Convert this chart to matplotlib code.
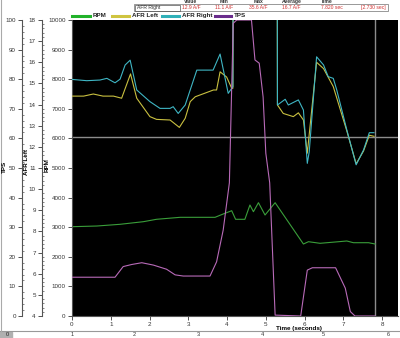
import matplotlib
matplotlib.use("Agg")
import matplotlib.pyplot as plt
from matplotlib.lines import Line2D
from matplotlib.patches import Rectangle
from matplotlib.ticker import MultipleLocator

plt.rcParams["font.family"] = ["Liberation Sans", "DejaVu Sans"]

# series
rpm_t = [0, 0.64, 1.24, 1.84, 2.18, 2.79, 3.69, 3.9, 4.12, 4.22, 4.46, 4.59, 4.68, 4.81, 4.98, 5.24,
         5.97, 6.1, 6.4, 7.09, 7.26, 7.65, 7.82]
rpm = [3017, 3040, 3098, 3186, 3267, 3334, 3334, 3446, 3557, 3267, 3267, 3750, 3524, 3828, 3412, 3828,
       2432, 2510, 2456, 2534, 2476, 2476, 2432]

afr_left_t = [0, 0.3, 0.55, 0.8, 1.07, 1.28, 1.51, 1.67, 2.01, 2.18, 2.53, 2.77, 2.92, 3.05, 3.18, 3.65,
              3.73, 3.82, 3.99, 4.12, 4.15, 4.17, 5.29, 5.30, 5.45, 5.71, 5.84, 5.97, 6.07, 6.31, 6.49,
              6.74, 7.09, 7.33, 7.52, 7.67, 7.79]
afr_left = [14.4, 14.4, 14.5, 14.4, 14.4, 14.3, 15.45, 14.3, 13.43, 13.3, 13.27, 12.92, 13.35, 14.14, 14.37,
            14.69, 14.69, 15.55, 15.3, 14.77, 14.77, 28, 26, 13.98, 13.58, 13.43, 13.61, 13.27, 11.7, 16.0,
            15.7, 14.85, 12.75, 11.2, 11.8, 12.55, 12.5]

afr_right_t = [0, 0.38, 0.72, 0.9, 1.11, 1.24, 1.37, 1.5, 1.67, 2.01, 2.27, 2.53, 2.61, 2.74, 2.92, 3.22,
               3.64, 3.82, 4.03, 4.12, 4.15, 4.17, 4.6, 5.0, 5.29, 5.30, 5.5, 5.58, 5.84, 5.97, 6.07, 6.12,
               6.31, 6.49, 6.61, 6.74, 6.83, 7.09, 7.33, 7.52, 7.67, 7.79]
afr_right = [15.19, 15.13, 15.16, 15.24, 15.03, 15.2, 15.87, 16.1, 14.69, 14.14, 13.82, 13.82, 13.9, 13.58,
             13.98, 15.63, 15.63, 16.39, 14.53, 14.77, 14.85, 30, 35.6, 32, 28, 13.98, 14.25, 13.98, 14.22,
             13.74, 11.22, 11.77, 16.26, 15.87, 15.32, 15.24, 14.69, 12.8, 11.15, 11.85, 12.67, 12.67]

tps_t = [0, 1.11, 1.32, 1.54, 1.8, 2.1, 2.44, 2.66, 2.87, 3.56, 3.73, 3.9, 4.06, 4.16, 4.25, 4.63, 4.72,
         4.83, 4.93, 5.0, 5.1, 5.24, 5.9, 6.07, 6.2, 6.8, 7.05, 7.18, 7.3, 7.82]
tps = [13.1, 13.1, 16.7, 17.4, 18, 17.2, 15.8, 13.9, 13.5, 13.5, 18.3, 29, 45, 98.9, 100, 100, 86.5,
       85.4, 74, 55, 45, 0.3, 0, 15.5, 16.3, 16.3, 9.4, 1.5, 0, 0]

cursor_t = 7.82
cursor_rpm = 6050

stat_headers = ["Value", "Min", "Max", "Average", "Time"]
stat_values = ["12.9 A/F", "11.1 A/F", "35.6 A/F", "16.7 A/F", "7.820 sec", "[2.730 sec]"]

C_RPM = "#3a9e3a"
C_AFRL = "#c9c040"
C_AFRR = "#3fb6c4"
C_TPS = "#b86ab8"

W, H = 400, 338


def fx(px):
    return px / W


def fy(py):
    return 1 - py / H


fig = plt.figure(figsize=(4, 3.38), dpi=100)
fig.patch.set_facecolor("white")

ax = fig.add_axes([fx(72), fy(316), fx(398) - fx(72), fy(20) - fy(316)])
ax.set_facecolor("black")
ax.set_xlim(0, 8.41)
ax.set_ylim(0, 10000)
ax.set_yticks(range(0, 10001, 1000))
ax.set_xticks(range(0, 9))
ax.tick_params(labelsize=4.5, length=3, width=0.6, pad=1.5, colors="#333333")
for s in ["top", "right"]:
    ax.spines[s].set_visible(False)
ax.spines["left"].set_color("#555555")
ax.spines["bottom"].set_color("#555555")

ax_afr = ax.twinx()
ax_afr.set_ylim(4, 18)
ax_tps = ax.twinx()
ax_tps.set_ylim(0, 100)
for a, pos, major, minor in [(ax_afr, -0.092, 1, 0.2), (ax_tps, -0.153, 10, 2)]:
    a.yaxis.set_ticks_position("left")
    for s in ["top", "right", "bottom"]:
        a.spines[s].set_visible(False)
    a.spines["left"].set_position(("axes", pos))
    a.spines["left"].set_color("#555555")
    a.yaxis.set_major_locator(MultipleLocator(major))
    a.yaxis.set_minor_locator(MultipleLocator(minor))
    a.tick_params(axis="y", which="major", labelsize=4.5, length=3, width=0.6, pad=1.5, colors="#333333")
    a.tick_params(axis="y", which="minor", length=1.6, width=0.5, direction="in", colors="#555555")

ax.axhline(cursor_rpm, color="#8c8c8c", lw=1.0, zorder=1)
ax.axvline(cursor_t, color="#8c8c8c", lw=1.0, zorder=1)

ax.plot(rpm_t, rpm, color=C_RPM, lw=0.8)
ax_tps.plot(tps_t, tps, color=C_TPS, lw=0.8)
ax_afr.plot(afr_left_t, afr_left, color=C_AFRL, lw=0.8)
ax_afr.plot(afr_right_t, afr_right, color=C_AFRR, lw=0.8)

ax.set_xlabel("Time (seconds)", fontsize=4.5, fontweight="bold", labelpad=0)
ax.xaxis.set_label_coords((299 - 72) / 326, -0.035)

fig.text(fx(4), fy(167), "TPS", rotation=90, fontsize=4.5, fontweight="bold", ha="center", va="center")
fig.text(fx(27), fy(162), "AFR Left", rotation=90, fontsize=4.5, fontweight="bold", ha="center", va="center")
fig.text(fx(47), fy(165), "RPM", rotation=90, fontsize=4.5, fontweight="bold", ha="center", va="center")

# legend strip
legend_items = [("RPM", "#22b22a", 72, 90), ("AFR Left", "#cfc440", 112, 129),
                ("AFR Right", "#2fb0b8", 162, 179), ("TPS", "#6a2c8c", 215, 231)]
for name, col, x0, x1 in legend_items:
    fig.add_artist(Line2D([fx(x0), fx(x1)], [fy(15.5), fy(15.5)], color=col, lw=2.2,
                          transform=fig.transFigure))
    fig.text(fx(x1 + 3), fy(15.5), name, fontsize=4.5, fontweight="bold", va="center", color="#222222")

# stats header/table
for name, px in zip(stat_headers, [191, 224, 258, 292, 327]):
    fig.text(fx(px), fy(1.5), name, fontsize=3.6, fontweight="bold", ha="center", va="center", color="#333333")
fig.add_artist(Rectangle((fx(134), fy(11)), fx(388) - fx(134), fy(4) - fy(11), fill=False,
                         ec="#888888", lw=0.6, transform=fig.transFigure))
fig.add_artist(Rectangle((fx(135), fy(10.5)), fx(180) - fx(135), fy(4.5) - fy(10.5), fill=False,
                         ec="#555555", lw=0.5, transform=fig.transFigure))
fig.text(fx(137), fy(7.5), "AFR Right", fontsize=3.6, va="center", color="#333333")
for val, px in zip(stat_values, [191, 224, 258, 291, 332, 373]):
    fig.text(fx(px), fy(7.5), val, fontsize=3.6, ha="center", va="center", color="#d03030")

# overview strip at the bottom
fig.add_artist(Line2D([0, 1], [fy(331), fy(331)], color="#999999", lw=0.8, transform=fig.transFigure))
fig.add_artist(Rectangle((0, 0), fx(12), fy(332), color="#b0b0b0", transform=fig.transFigure))
fig.text(fx(7), fy(335), "0", fontsize=4, ha="center", va="center", color="#222222")
for i, px in enumerate([72, 134, 198, 262, 323, 388], start=1):
    fig.text(fx(px), fy(335), str(i), fontsize=4, ha="center", va="center", color="#333333")
fig.add_artist(Line2D([fx(1), fx(1)], [fy(331), 1], color="#aaaaaa", lw=0.8, transform=fig.transFigure))

fig.savefig("out.png", dpi=100, facecolor="white")
plt.close(fig)
